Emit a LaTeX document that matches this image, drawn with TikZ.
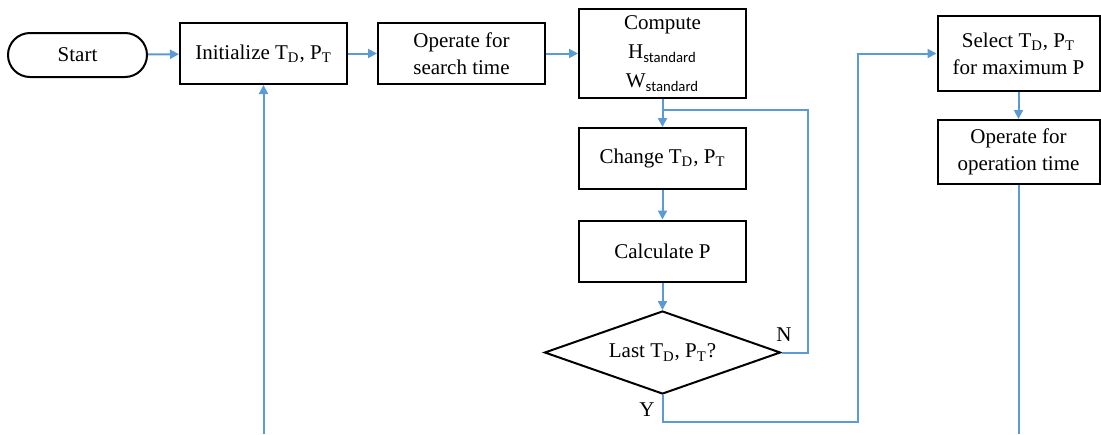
\documentclass[tikz,border=0pt]{standalone}
\usepackage{fontspec}
\setmainfont{Liberation Serif}
\newfontfamily\subfont{Carlito}
\usetikzlibrary{shapes.geometric,arrows.meta}
\definecolor{flowblue}{RGB}{91,155,213}
\newcommand{\TD}{T\textsubscript{D}}
\newcommand{\PT}{P\textsubscript{T}}
\begin{document}
\begin{tikzpicture}[x=0.5pt,y=-0.5pt,
  font=\fontsize{10.5}{13.5}\selectfont,
  stepbox/.style={rectangle,draw,line width=1pt,align=center,minimum width=83.5pt,minimum height=30.5pt,inner sep=2pt},
  startbox/.style={rectangle,rounded corners=11pt,draw,line width=1pt,minimum width=69.5pt,minimum height=22pt},
  askbox/.style={diamond,draw,line width=1pt,shape aspect=2.84,minimum width=118pt,minimum height=41.5pt,inner sep=0pt},
  flow/.style={draw=flowblue,line width=1pt},
  flowarrow/.style={flow,-{Triangle[length=4.5pt,width=4.5pt]}}]
\useasboundingbox (0,0) rectangle (1101,434);
\node[startbox] (start) at (77.5,55) {Start};
\node[stepbox] (init) at (263.5,53.5) {Initialize \TD, \PT};
\node[stepbox] (search) at (461.5,53.5) {Operate for\\search time};
\node[stepbox,minimum height=44.5pt,font=\fontsize{10.5}{14.5}\selectfont] (compute) at (662.5,53.5) {Compute\\H\textsubscript{\subfont standard}\\W\textsubscript{\subfont standard}};
\node[stepbox] (change) at (662.5,158.5) {Change \TD, \PT};
\node[stepbox] (calc) at (662.5,251) {Calculate P};
\node[askbox] (last) at (662.5,352.5) {Last \TD, \PT?};
\node[stepbox,minimum width=81pt,minimum height=37.5pt] (select) at (1018.5,53.5) {Select \TD, \PT\\for maximum P};
\node[stepbox,minimum width=81pt,minimum height=32pt] (operate) at (1018.5,152) {Operate for\\operation time};
\node (no) at (784,335) {N};
\node (yes) at (647,410) {Y};
\coordinate (noturn) at (808,110);
\coordinate (join) at (662.5,110);
\coordinate (yesturn) at (662.5,422);
\coordinate (yesup) at (858,422);
\coordinate (initin) at (263.5,434);
\coordinate (opout) at (1018.5,434);
\draw[flowarrow] (start) -- (init);
\draw[flowarrow] (init) -- (search);
\draw[flowarrow] (search) -- (compute);
\draw[flowarrow] (compute) -- (change);
\draw[flowarrow] (change) -- (calc);
\draw[flowarrow] (calc) -- (last);
\draw[flow] (last.east) -| (noturn) -- (join);
\draw[flowarrow] (last.south) -- (yesturn) -- (yesup) |- (select.west);
\draw[flowarrow] (select) -- (operate);
\draw[flow] (operate) -- (opout);
\draw[flowarrow] (initin) -- (init);
\end{tikzpicture}
\end{document}
